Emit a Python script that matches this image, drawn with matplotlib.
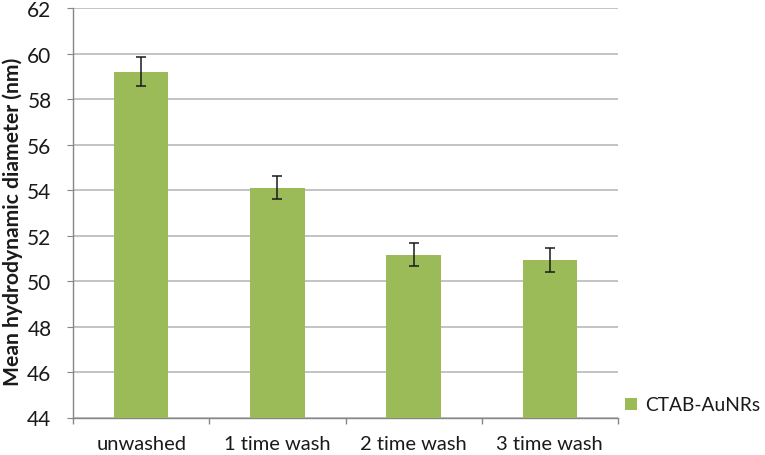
import matplotlib.pyplot as plt

plt.rcParams['font.family'] = ['Lato', 'DejaVu Sans']

categories = ['unwashed', '1 time wash', '2 time wash', '3 time wash']
diameter = [59.21, 54.11, 51.17, 50.91]
errors = [0.64, 0.52, 0.50, 0.53]
series_name = 'CTAB-AuNRs'

fig = plt.figure(figsize=(7.65, 4.56), dpi=100)
ax = fig.add_axes([73 / 765, 1 - 418.5 / 456, (618 - 73) / 765, (418.5 - 9.3) / 456])

x = range(len(categories))
ax.bar(x, diameter, width=0.40, color='#9BBB59', label=series_name, zorder=3)
ax.errorbar(x, diameter, yerr=errors, fmt='none', ecolor='#1a1a1a',
            elinewidth=1.1, capsize=3.3, capthick=1.1, zorder=4)

ax.set_ylim(44, 62)
ax.set_yticks(range(44, 63, 2))
ax.set_xlim(-0.5, len(categories) - 0.5)
ax.set_xticks(x)
ax.set_xticklabels(categories)
ax.set_xticks([i - 0.5 for i in range(len(categories) + 1)], minor=True)
ax.tick_params(axis='x', which='major', length=0, pad=12.5, labelsize=14.5, labelcolor='#1a1a1a')
ax.tick_params(axis='x', which='minor', length=4.5, color='#868686', width=1)
ax.tick_params(axis='y', length=4.5, color='#868686', labelsize=15, labelcolor='#1a1a1a', pad=11)

ax.grid(axis='y', color='#b3b3b3', linewidth=1.1, zorder=0)
for s in ['top', 'right']:
    ax.spines[s].set_visible(False)
for s in ['left', 'bottom']:
    ax.spines[s].set_color('#868686')
    ax.spines[s].set_linewidth(1)

ax.set_ylabel('Mean hydrodynamic diameter (nm)', fontsize=15.2, fontweight='bold',
              color='#1a1a1a')
ax.yaxis.set_label_coords(-0.091, 0.48)

leg = fig.legend(loc='center left', bbox_to_anchor=(608 / 765, 1 - 406 / 456),
                 frameon=False, fontsize=13.8, handlelength=0.62, handleheight=0.62,
                 handletextpad=0.4)
for t in leg.get_texts():
    t.set_color('#1a1a1a')

fig.savefig('out.png', dpi=100)
